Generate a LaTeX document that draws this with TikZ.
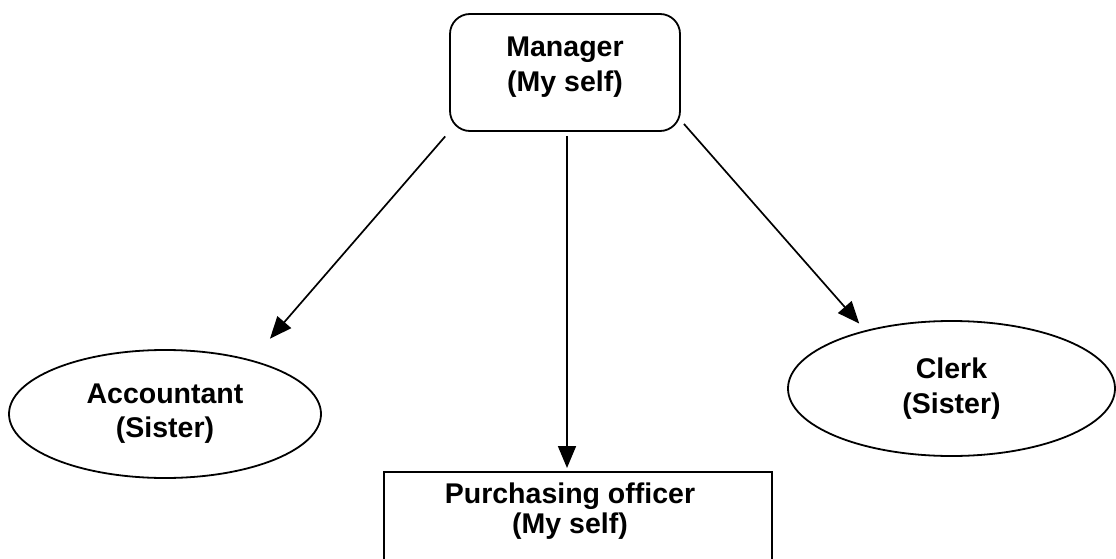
\documentclass[tikz,border=0pt]{standalone}
\usepackage{fontspec}
\setmainfont{Liberation Sans}
\usetikzlibrary{shapes.geometric,arrows.meta}
\tikzset{
  lbl/.style={font=\bfseries\fontsize{28.5}{34}\selectfont, align=center, text=black},
  shp/.style={draw=black, line width=1.8pt, inner sep=0pt},
  arr/.style={draw=black, line width=1.7pt, -{Triangle[length=22pt,width=18pt]}}
}
\begin{document}
\begin{tikzpicture}[x={(1pt,0pt)}, y={(0pt,-1pt)}]
\clip (0,0) rectangle (1116,559);
\fill[white] (0,0) rectangle (1116,559);
\node[shp, lbl, font=\bfseries\fontsize{28.5}{35}\selectfont, rectangle, rounded corners=20pt, minimum width=230pt, minimum height=117pt, text depth=16pt] (mgr) at (565,72.5) {Manager\\(My self)};
\node[shp, lbl, ellipse, minimum width=312pt, minimum height=128pt] (acc) at (165,414) {Accountant\\(Sister)};
\node[shp, lbl, font=\bfseries\fontsize{28.5}{35}\selectfont, ellipse, minimum width=327pt, minimum height=135pt] (clk) at (951.5,388.5) {Clerk\\(Sister)};
\node[shp, rectangle, minimum width=388pt, minimum height=130pt, anchor=north] (pur) at (578,471) {};
\node[lbl, font=\bfseries\fontsize{28.5}{30}\selectfont] (purtxt) at (570,511) {Purchasing officer\\(My self)};
\draw[arr, shorten <=6pt, shorten >=28pt] (mgr.south west) -- (acc.32.6);
\draw[arr, shorten >=9pt] ([shift={(3,-8)}]mgr.south east) -- (clk.146);
\draw[arr, shorten <=4pt, shorten >=3pt] ([xshift=2pt]mgr.south) -- ([xshift=2pt]mgr.south |- pur.north);
\end{tikzpicture}
\end{document}
